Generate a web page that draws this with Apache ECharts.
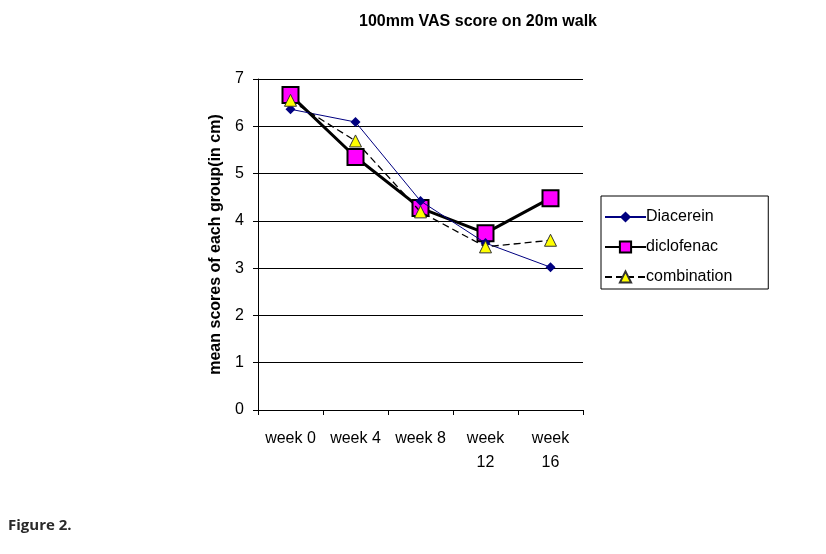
<!DOCTYPE html>
<html>
<head>
<meta charset="utf-8">
<script src="https://cdn.jsdelivr.net/npm/echarts@6/dist/echarts.min.js"></script>
<style>html,body{margin:0;padding:0;background:#fff;}#c{width:826px;height:554px;}</style>
</head>
<body>
<div id="c"></div>
<script>
const categories = ['week 0', 'week 4', 'week 8', 'week\n12', 'week\n16'];
const diacerein = [6.36, 6.09, 4.42, 3.53, 3.02];
const diclofenac = [6.66, 5.35, 4.27, 3.74, 4.48];
const combination = [6.55, 5.69, 4.19, 3.45, 3.59];
const yTicks = [0, 1, 2, 3, 4, 5, 6, 7];

const chart = echarts.init(document.getElementById('c'));
const font = 'Arial, "Liberation Sans", sans-serif';
chart.setOption({
  animation: false,
  backgroundColor: '#fff',
  title: {
    text: '100mm VAS score on 20m walk',
    left: 473, top: 9, textAlign: 'center',
    textStyle: { fontFamily: font, fontWeight: 'bold', fontSize: 16, color: '#000' }
  },
  grid: { left: 258, top: 79, width: 325, height: 331, containLabel: false },
  legend: {
    orient: 'vertical', left: 601, top: 196,
    padding: [12, 36, 3, 3], itemGap: 12,
    borderColor: '#000', borderWidth: 1,
    itemWidth: 41, itemHeight: 14,
    textStyle: { fontFamily: font, fontSize: 16, color: '#000', lineHeight: 18, padding: [0, 0, 0, -5] },
    data: ['Diacerein', 'diclofenac', 'combination']
  },
  xAxis: {
    type: 'category', data: categories, boundaryGap: true,
    axisLine: { lineStyle: { color: '#000', width: 1 } },
    axisTick: { show: true, length: 5, lineStyle: { color: '#000' } },
    axisLabel: { color: '#000', fontFamily: font, fontSize: 16, margin: 17, lineHeight: 24, interval: 0 }
  },
  yAxis: {
    type: 'value', min: yTicks[0], max: yTicks[yTicks.length - 1], interval: 1,
    name: 'mean scores of each group(in cm)', nameLocation: 'middle', nameGap: 34,
    nameTextStyle: { fontFamily: font, fontWeight: 'bold', fontSize: 16, color: '#000' },
    axisLine: { show: true, lineStyle: { color: '#000', width: 1 } },
    axisTick: { show: true, length: 5, lineStyle: { color: '#000' } },
    axisLabel: { color: '#000', fontFamily: font, fontSize: 16, margin: 14 },
    splitLine: { show: true, lineStyle: { color: '#000', width: 1 } }
  },
  series: [
    {
      name: 'Diacerein', type: 'line', data: diacerein,
      symbol: 'diamond', symbolSize: 10,
      lineStyle: { color: '#000080', width: 1 },
      itemStyle: { color: '#000080', borderColor: '#000080', borderWidth: 0 },
      z: 3
    },
    {
      name: 'diclofenac', type: 'line', data: diclofenac,
      symbol: 'rect', symbolSize: 16,
      lineStyle: { color: '#000', width: 3 },
      itemStyle: { color: '#FF00FF', borderColor: '#000', borderWidth: 2 },
      z: 2
    },
    {
      name: 'combination', type: 'line', data: combination,
      symbol: 'triangle', symbolSize: 12,
      lineStyle: { color: '#000', width: 1.3, type: [7, 4] },
      itemStyle: { color: '#FFFF00', borderColor: '#333', borderWidth: 1 },
      z: 4
    }
  ],
  graphic: [{
    type: 'text', left: 8, top: 518,
    style: { text: 'Figure 2.', font: 'bold 15px "Open Sans", "Noto Sans", sans-serif', fill: '#2a2a2a' }
  }]
});
</script>
</body>
</html>
